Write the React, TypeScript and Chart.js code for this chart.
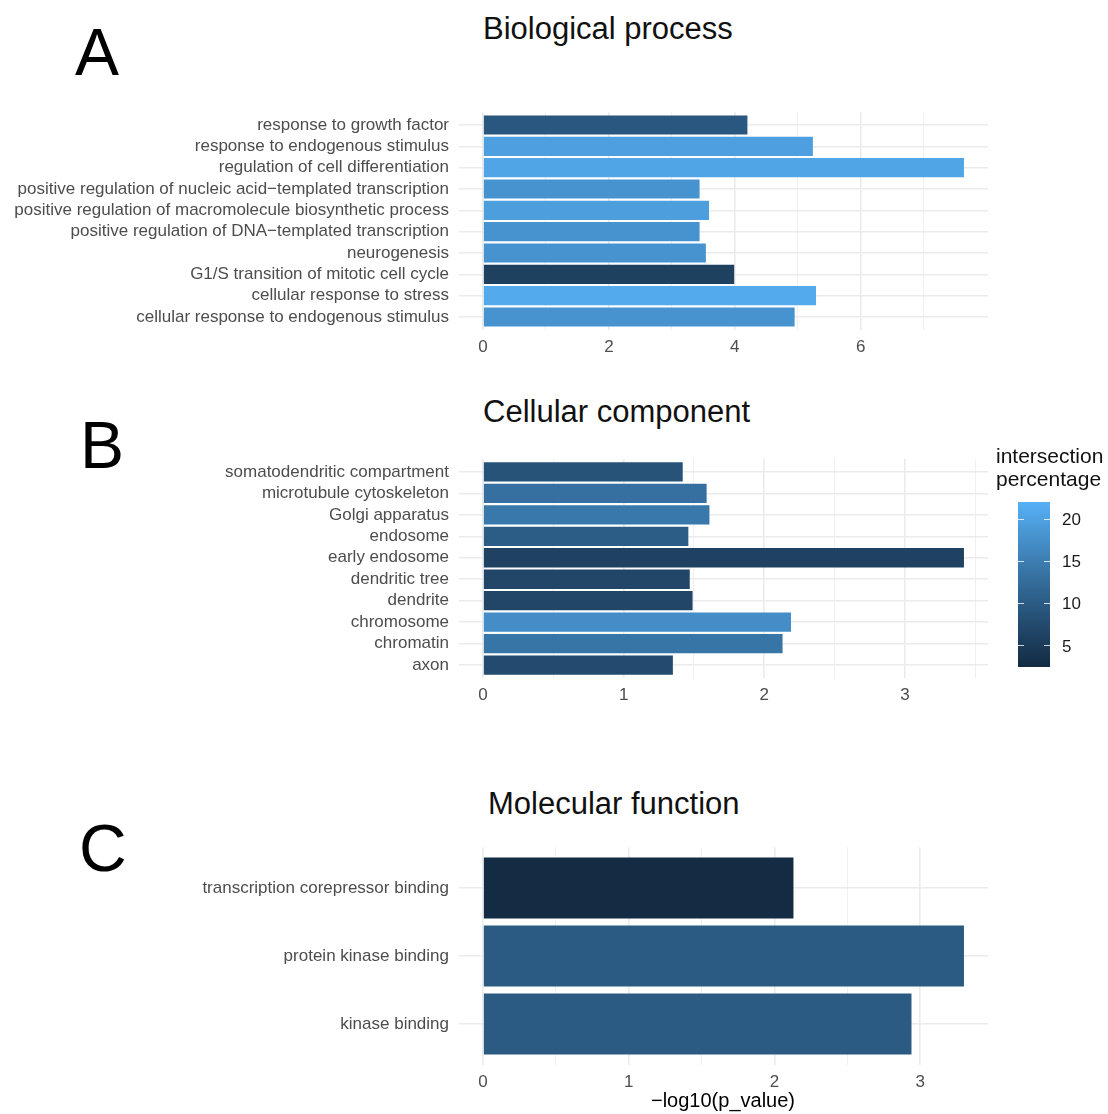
import React, { useEffect, useRef } from 'react';
import { Chart, registerables } from 'chart.js';
Chart.register(...registerables);

const FONT = '"Liberation Sans", Arial, Helvetica, sans-serif';

// ---------- DATA ----------
const bpTerms = [
  'response to growth factor',
  'response to endogenous stimulus',
  'regulation of cell differentiation',
  'positive regulation of nucleic acid\u2212templated transcription',
  'positive regulation of macromolecule biosynthetic process',
  'positive regulation of DNA\u2212templated transcription',
  'neurogenesis',
  'G1/S transition of mitotic cell cycle',
  'cellular response to stress',
  'cellular response to endogenous stimulus',
];
const bpValues = [4.2, 5.24, 7.64, 3.44, 3.59, 3.44, 3.54, 3.99, 5.29, 4.95];
const bpPct = [9.5, 19.7, 20.4, 18.0, 19.5, 18.0, 18.0, 6.0, 21.2, 18.0];
const bpMajor = [0, 2, 4, 6];
const bpMinor = [1, 3, 5, 7];

const ccTerms = [
  'somatodendritic compartment',
  'microtubule cytoskeleton',
  'Golgi apparatus',
  'endosome',
  'early endosome',
  'dendritic tree',
  'dendrite',
  'chromosome',
  'chromatin',
  'axon',
];
const ccValues = [1.42, 1.59, 1.61, 1.46, 3.42, 1.47, 1.49, 2.19, 2.13, 1.35];
const ccPct = [8.9, 13.1, 14.2, 10.4, 6.3, 6.9, 6.9, 17.2, 13.9, 7.7];
const ccMajor = [0, 1, 2, 3];
const ccMinor = [0.5, 1.5, 2.5, 3.5];

const mfTerms = ['transcription corepressor binding', 'protein kinase binding', 'kinase binding'];
const mfValues = [2.13, 3.3, 2.94];
const mfPct = [2.6, 9.9, 9.9];
const mfMajor = [0, 1, 2, 3];
const mfMinor = [0.5, 1.5, 2.5];

const legendBreaks = [5, 10, 15, 20];
const legendLimits = [2.5, 22.05];
const LOW = '#132B43';
const HIGH = '#56B1F7';

// ---------- COLOUR (Lab interpolation like ggplot) ----------
function hexToRgb(h: string) {
  const n = parseInt(h.slice(1), 16);
  return [(n >> 16) & 255, (n >> 8) & 255, n & 255];
}
function toLab(rgb: number[]) {
  const lin = rgb.map((c) => {
    const v = c / 255;
    return v <= 0.04045 ? v / 12.92 : Math.pow((v + 0.055) / 1.055, 2.4);
  });
  const X = (0.4124 * lin[0] + 0.3576 * lin[1] + 0.1805 * lin[2]) / 0.95047;
  const Y = 0.2126 * lin[0] + 0.7152 * lin[1] + 0.0722 * lin[2];
  const Z = (0.0193 * lin[0] + 0.1192 * lin[1] + 0.9505 * lin[2]) / 1.08883;
  const f = (t: number) => (t > 0.008856 ? Math.cbrt(t) : 7.787 * t + 16 / 116);
  const fx = f(X), fy = f(Y), fz = f(Z);
  return [116 * fy - 16, 500 * (fx - fy), 200 * (fy - fz)];
}
function fromLab(lab: number[]) {
  const fy = (lab[0] + 16) / 116;
  const fx = fy + lab[1] / 500;
  const fz = fy - lab[2] / 200;
  const inv = (f: number) => (f * f * f > 0.008856 ? f * f * f : (f - 16 / 116) / 7.787);
  const X = 0.95047 * inv(fx), Y = inv(fy), Z = 1.08883 * inv(fz);
  const lin = [
    3.2406 * X - 1.5372 * Y - 0.4986 * Z,
    -0.9689 * X + 1.8758 * Y + 0.0415 * Z,
    0.0557 * X - 0.204 * Y + 1.057 * Z,
  ];
  const out = lin.map((c) => {
    const v = c <= 0.0031308 ? 12.92 * c : 1.055 * Math.pow(c, 1 / 2.4) - 0.055;
    return Math.round(Math.max(0, Math.min(1, v)) * 255);
  });
  return `rgb(${out[0]},${out[1]},${out[2]})`;
}
const labLow = toLab(hexToRgb(LOW));
const labHigh = toLab(hexToRgb(HIGH));
function fillColor(p: number) {
  let t = (p - legendLimits[0]) / (legendLimits[1] - legendLimits[0]);
  t = Math.max(0, Math.min(1, t));
  return fromLab(labLow.map((v, i) => v + (labHigh[i] - v) * t));
}

// ---------- LAYOUT ----------
const AREA_LEFT = 459;
const AREA_RIGHT = 988;
const CANVAS_W = 1000;

type PanelProps = {
  terms: string[];
  values: number[];
  pcts: number[];
  major: number[];
  minor: number[];
  canvasTop: number;
  canvasH: number;
  areaTop: number;
  areaBottom: number;
};

function Panel(p: PanelProps) {
  const ref = useRef<HTMLCanvasElement>(null);
  useEffect(() => {
    if (!ref.current) return;
    const maxV = Math.max(...p.values);
    const n = p.terms.length;
    const majorSet = new Set(p.major);
    const chart = new Chart(ref.current, {
      type: 'bar',
      data: {
        datasets: [
          {
            data: p.values.map((v, i) => ({ x: v, y: i + 1 })),
            backgroundColor: p.pcts.map(fillColor),
            borderWidth: 0,
            barPercentage: 0.9,
            categoryPercentage: 1,
          },
        ],
      },
      options: {
        indexAxis: 'y',
        responsive: false,
        animation: false,
        devicePixelRatio: 1,
        layout: {
          padding: {
            top: p.areaTop - p.canvasTop,
            right: CANVAS_W - AREA_RIGHT,
            left: 0,
            bottom: 0,
          },
        },
        plugins: { legend: { display: false }, tooltip: { enabled: false }, title: { display: false } },
        scales: {
          x: {
            type: 'linear',
            offset: false,
            min: -0.05 * maxV,
            max: 1.05 * maxV,
            afterBuildTicks: (scale: any) => {
              scale.ticks = [...p.major, ...p.minor].sort((a, b) => a - b).map((v) => ({ value: v }));
            },
            afterFit: (scale: any) => {
              scale.height = p.canvasTop + p.canvasH - p.areaBottom;
              scale.paddingLeft = 0;
              scale.paddingRight = 0;
            },
            border: { display: false },
            grid: {
              offset: false,
              drawTicks: false,
              color: (ctx: any) => (majorSet.has(ctx.tick?.value) ? '#EBEBEB' : '#F0F0F0'),
              lineWidth: (ctx: any) => (majorSet.has(ctx.tick?.value) ? 1.6 : 1),
            },
            ticks: {
              autoSkip: false,
              maxRotation: 0,
              padding: 7,
              color: '#4D4D4D',
              font: { family: FONT, size: 17 },
              callback: (v: any) => (majorSet.has(Number(v)) ? String(v) : ''),
            },
          },
          y: {
            type: 'linear',
            offset: false,
            reverse: true,
            min: 0.4,
            max: n + 0.6,
            afterBuildTicks: (scale: any) => {
              scale.ticks = p.terms.map((_, i) => ({ value: i + 1 }));
            },
            afterFit: (scale: any) => {
              scale.width = AREA_LEFT;
              scale.paddingTop = 0;
              scale.paddingBottom = 0;
            },
            border: { display: false },
            grid: { offset: false, drawTicks: false, color: '#EBEBEB', lineWidth: 1.6 },
            ticks: {
              autoSkip: false,
              padding: 10,
              color: '#4D4D4D',
              font: { family: FONT, size: 17 },
              callback: (v: any) => p.terms[Math.round(Number(v)) - 1] ?? '',
            },
          },
        },
      } as any,
    });
    return () => chart.destroy();
  }, []);
  return (
    <canvas
      ref={ref}
      width={CANVAS_W}
      height={p.canvasH}
      style={{ position: 'absolute', left: 0, top: p.canvasTop, width: CANVAS_W, height: p.canvasH }}
    />
  );
}

function Txt(props: { x: number; baseline: number; size: number; text: string; color?: string; center?: boolean }) {
  const top = props.baseline - 0.8465 * props.size;
  return (
    <div
      style={{
        position: 'absolute',
        left: props.center ? props.x - 200 : props.x,
        width: props.center ? 400 : undefined,
        textAlign: props.center ? 'center' : 'left',
        top,
        fontFamily: FONT,
        fontSize: props.size,
        lineHeight: 1,
        whiteSpace: 'nowrap',
        color: props.color ?? '#000',
      }}
    >
      {props.text}
    </div>
  );
}

function ColorBar() {
  const top = 502;
  const height = 165;
  const left = 1018;
  const width = 32;
  const [lo, hi] = legendLimits;
  const yOf = (v: number) => top + ((hi - v) / (hi - lo)) * height;
  const stops: string[] = [];
  for (let i = 0; i <= 10; i++) {
    const v = lo + ((hi - lo) * i) / 10;
    stops.push(`${fillColor(v)} ${i * 10}%`);
  }
  return (
    <>
      <div
        style={{
          position: 'absolute',
          left,
          top,
          width,
          height,
          background: `linear-gradient(to top, ${stops.join(', ')})`,
        }}
      />
      {legendBreaks.map((b) => (
        <React.Fragment key={b}>
          <div style={{ position: 'absolute', left, top: yOf(b) - 0.5, width: 6, height: 1, background: 'rgba(255,255,255,0.8)' }} />
          <div style={{ position: 'absolute', left: left + width - 6, top: yOf(b) - 0.5, width: 6, height: 1, background: 'rgba(255,255,255,0.8)' }} />
          <Txt x={1062} baseline={yOf(b) + 6} size={17} text={String(b)} color="#1A1A1A" />
        </React.Fragment>
      ))}
    </>
  );
}

export default function App() {
  return (
    <div style={{ position: 'absolute', left: 0, top: 0, width: 1108, height: 1114, background: '#fff', overflow: 'hidden' }}>
      <Txt x={75} baseline={75} size={66} text="A" />
      <Txt x={80} baseline={468} size={66} text="B" />
      <Txt x={79} baseline={871} size={66} text="C" />
      <Txt x={483} baseline={39} size={31} text="Biological process" color="#111" />
      <Txt x={483} baseline={422} size={31} text="Cellular component" color="#111" />
      <Txt x={488} baseline={814} size={31} text="Molecular function" color="#111" />
      <Panel terms={bpTerms} values={bpValues} pcts={bpPct} major={bpMajor} minor={bpMinor} canvasTop={100} canvasH={270} areaTop={112.2} areaBottom={329.8} />
      <Panel terms={ccTerms} values={ccValues} pcts={ccPct} major={ccMajor} minor={ccMinor} canvasTop={445} canvasH={270} areaTop={459.1} areaBottom={677.9} />
      <Panel terms={mfTerms} values={mfValues} pcts={mfPct} major={mfMajor} minor={mfMinor} canvasTop={835} canvasH={265} areaTop={847.2} areaBottom={1064.8} />
      <Txt x={996} baseline={463} size={21} text="intersection" color="#111" />
      <Txt x={996} baseline={486} size={21} text="percentage" color="#111" />
      <ColorBar />
      <Txt x={723} baseline={1107} size={20} text={'\u2212log10(p_value)'} center />
    </div>
  );
}
